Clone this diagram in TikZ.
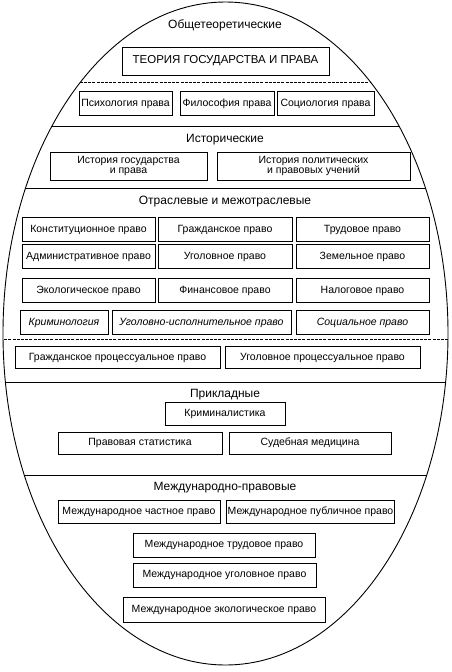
\documentclass[tikz,border=0pt]{standalone}
\usepackage{fontspec}
\setmainfont{Liberation Sans}
\begin{document}
\begin{tikzpicture}[x=1pt,y=-1pt,
  box/.style={draw,line width=0.7pt,inner sep=1pt,minimum height=24,align=center,font=\fontsize{10.5}{11}\selectfont},
  head/.style={font=\fontsize{12}{13}\selectfont},
  sep/.style={line width=1pt},
  dsep/.style={line width=0.8pt,dash pattern=on 3pt off 1.2pt}]
  \useasboundingbox (0,0) rectangle (452,672);
  \draw[line width=0.9pt] (225.5,333.5) ellipse [x radius=222.5,y radius=331.5];
  \begin{scope}
    \clip (225.5,333.5) ellipse [x radius=222.5,y radius=331.5];
    \draw[dsep] (0,82) -- (452,82);
    \draw[sep] (0,126) -- (452,126);
    \draw[sep] (0,188) -- (452,188);
    \draw[dsep] (0,339) -- (452,339);
    \draw[sep] (0,382) -- (452,382);
    \draw[sep] (0,475) -- (452,475);
  \end{scope}
  \node[head] (obsh) at (225,25) {Общетеоретические};
  \node[box,minimum width=207,minimum height=28,font=\fontsize{11.5}{12}\selectfont] (tgp) at (225.5,61) {ТЕОРИЯ ГОСУДАРСТВА И ПРАВА};
  \node[box,minimum width=93] (psy) at (125.5,103.5) {Психология права};
  \node[box,minimum width=94] (phil) at (227,103.5) {Философия права};
  \node[box,minimum width=97] (soc) at (325.5,103.5) {Социология права};
  \node[head] (hist) at (225,140) {Исторические};
  \node[box,minimum width=157,minimum height=28,font=\fontsize{10.5}{10}\selectfont] (hgp) at (128.5,166) {История государства\\и права};
  \node[box,minimum width=193,minimum height=28,font=\fontsize{10.5}{10}\selectfont] (hpu) at (313.5,166) {История политических\\и правовых учений};
  \node[head] (otr) at (225,202) {Отраслевые и межотраслевые};
  \node[box,minimum width=133] (konst) at (88.5,229.5) {Конституционное право};
  \node[box,minimum width=134] (grazh) at (225,229.5) {Гражданское право};
  \node[box,minimum width=133] (trud) at (362.5,229.5) {Трудовое право};
  \node[box,minimum width=133] (adm) at (88.5,256.5) {Административное право};
  \node[box,minimum width=134] (ugol) at (225,256.5) {Уголовное право};
  \node[box,minimum width=133] (zem) at (362.5,256.5) {Земельное право};
  \node[box,minimum width=133] (eko) at (88.5,290.5) {Экологическое право};
  \node[box,minimum width=134] (fin) at (225,290.5) {Финансовое право};
  \node[box,minimum width=133] (nal) at (362.5,290.5) {Налоговое право};
  \node[box,minimum width=88] (krim) at (64,322.5) {\itshape Криминология};
  \node[box,minimum width=179] (uip) at (201.5,322.5) {\itshape Уголовно-исполнительное право};
  \node[box,minimum width=133] (socp) at (362.5,322.5) {\itshape Социальное право};
  \node[box,minimum width=205,minimum height=22] (gpp) at (117.5,357.5) {Гражданское процессуальное право};
  \node[box,minimum width=195,minimum height=22] (upp) at (322.5,357.5) {Уголовное процессуальное право};
  \node[head] (prikl) at (225,395) {Прикладные};
  \node[box,minimum width=120,minimum height=23] (krimst) at (225,413.5) {Криминалистика};
  \node[box,minimum width=164,minimum height=22] (stat) at (140,443) {Правовая статистика};
  \node[box,minimum width=162,minimum height=22] (med) at (310,443) {Судебная медицина};
  \node[head] (mp) at (225,488) {Международно-правовые};
  \node[box,minimum width=162,minimum height=23] (mchp) at (139,511.5) {Международное частное право};
  \node[box,minimum width=163,minimum height=23] (mpub) at (310.5,511.5) {Международное публичное право};
  \node[box,minimum width=182] (mtrud) at (224,545) {Международное трудовое право};
  \node[box,minimum width=183] (mugol) at (224.5,575) {Международное уголовное право};
  \node[box,minimum width=202,minimum height=25] (meko) at (224,609.5) {Международное экологическое право};
\end{tikzpicture}
\end{document}
